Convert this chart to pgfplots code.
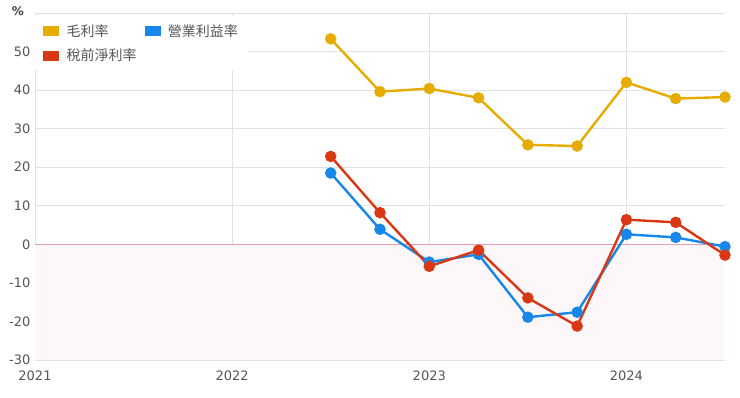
\documentclass[border=0pt]{standalone}
\usepackage{pgfplots}
\pgfplotsset{compat=1.18}
\usepackage{fontspec}
\setmainfont{DejaVu Sans}
\newfontfamily\cjk{Noto Sans CJK TC}
\definecolor{cgold}{RGB}{230,172,0}
\definecolor{cblue}{RGB}{24,136,232}
\definecolor{cred}{RGB}{218,56,20}
\definecolor{cgrid}{RGB}{226,226,230}
\definecolor{ctick}{RGB}{85,85,85}
\definecolor{cpink}{RGB}{254,247,249}
\definecolor{czero}{RGB}{226,160,178}
\begin{document}
\begin{tikzpicture}[x=1pt,y=1pt]
\useasboundingbox (-35,-38) rectangle (705,360);
\begin{axis}[
  at={(0,0)}, anchor=south west,
  scale only axis, width=690pt, height=347pt,
  xmin=2021, xmax=2024.5, ymin=-30, ymax=60,
  xtick={2021,2022,2023,2024}, xticklabels={2021,2022,2023,2024},
  ytick={-30,-20,...,50}, yticklabels={-30,-20,-10,0,10,20,30,40,50},
  extra y ticks={60}, extra y tick labels={},
  grid=major, grid style={cgrid, line width=0.8pt},
  axis line style={draw=none}, tick style={draw=none},
  tick label style={font=\fontsize{13}{15}\selectfont, text=ctick},
  yticklabel style={xshift=-1pt},
  xticklabel style={yshift=-7pt},
  clip=false,
  legend style={at={(0,1)}, anchor=north west, yshift=-3pt, draw=none, fill=white,
     font=\cjk\fontsize{14}{16}\selectfont, text=ctick,
     legend columns=2, column sep=6pt, row sep=7pt,
     inner xsep=8pt, inner ysep=6pt,
     legend cell align=left},
]
\addplot[draw=none, fill=cpink, forget plot] coordinates {(2021,0) (2024.5,0) (2024.5,-30) (2021,-30)} \closedcycle;
\addplot[czero, line width=1.3pt, forget plot] coordinates {(2021,0) (2024.5,0)};
\addlegendimage{legend image code/.code={\fill[cgold] (0pt,-4.5pt) rectangle (15pt,4.5pt);}}
\addlegendentry{毛利率}
\addlegendimage{legend image code/.code={\fill[cblue] (0pt,-4.5pt) rectangle (15pt,4.5pt);}}
\addlegendentry{營業利益率}
\addlegendimage{legend image code/.code={\fill[cred] (0pt,-4.5pt) rectangle (15pt,4.5pt);}}
\addlegendentry{稅前淨利率}
\addplot[cgold, line width=2.4pt, mark=*, mark size=4.5pt, forget plot] coordinates {
(2022.5,53.3) (2022.75,39.6) (2023,40.4) (2023.25,38.0) (2023.5,25.8) (2023.75,25.5) (2024,42.0) (2024.25,37.8) (2024.5,38.2)};
\addplot[cblue, line width=2.4pt, mark=*, mark size=4.5pt, forget plot] coordinates {
(2022.5,18.5) (2022.75,3.9) (2023,-4.6) (2023.25,-2.6) (2023.5,-18.9) (2023.75,-17.6) (2024,2.6) (2024.25,1.8) (2024.5,-0.6)};
\addplot[cred, line width=2.4pt, mark=*, mark size=4.5pt, forget plot] coordinates {
(2022.5,22.8) (2022.75,8.2) (2023,-5.7) (2023.25,-1.5) (2023.5,-13.9) (2023.75,-21.2) (2024,6.4) (2024.25,5.7) (2024.5,-2.8)};
\node[font=\bfseries\fontsize{12}{14}\selectfont, text=black!75] at (rel axis cs:0,1) [xshift=-17pt, yshift=2pt] {\%};
\end{axis}
\end{tikzpicture}
\end{document}
